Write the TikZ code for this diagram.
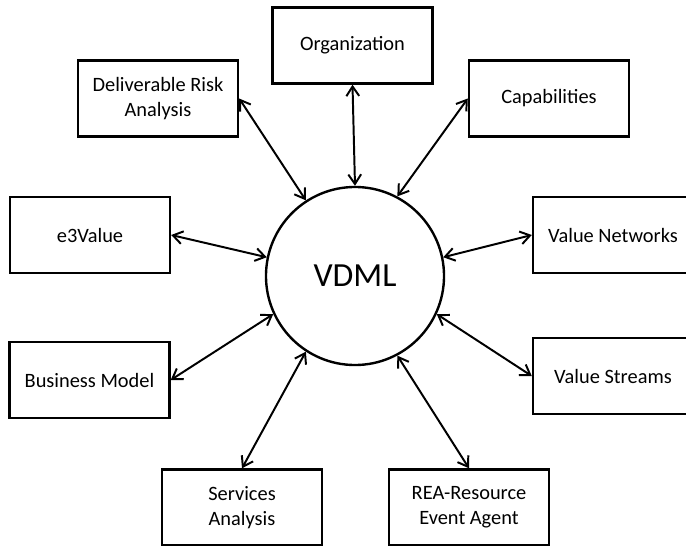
\documentclass[tikz,border=0pt]{standalone}
\usepackage{fontspec}
\setmainfont{Carlito}
\usepackage{tikz}
\usetikzlibrary{arrows.meta, positioning}

\begin{document}
\begin{tikzpicture}[
    x=0.025cm, y=-0.025cm,
    block/.style={rectangle, draw=black, line width=1.7pt, fill=white, minimum width=4cm, minimum height=1.9cm, align=center, font=\fontsize{14.5}{18}\selectfont},
    hub/.style={circle, draw=black, line width=1.7pt, minimum size=4.45cm, inner sep=0pt, font=\fontsize{24}{28}\selectfont},
    link/.style={{Straight Barb[length=2.4mm, width=3.2mm]}-{Straight Barb[length=2.4mm, width=3.2mm]}, line width=1.4pt}
]
\useasboundingbox (0,0) rectangle (686,546);

% Central model
\node[hub] (vdml) at (355, 276) {VDML};

% Surrounding boxes (clockwise from top)
\node[block] (org) at (352.5, 45.5) {Organization};
\node[block] (cap) at (549, 98.5) {Capabilities};
\node[block] (vnet) at (613, 235) {Value Networks};
\node[block] (vstr) at (613, 376) {Value Streams};
\node[block] (rea) at (469, 507.5) {REA-Resource\\Event Agent};
\node[block] (serv) at (242, 507.5) {Services\\Analysis};
\node[block] (bmod) at (89.5, 380) {Business Model};
\node[block] (e3v) at (90, 235) {e3Value};
\node[block] (dra) at (158, 98.5) {Deliverable Risk\\Analysis};

% Two-way links to VDML
\draw[link] (org.south) -- (vdml.90);
\draw[link] (cap.west) -- (vdml.62);
\draw[link] (vnet.west) -- (vdml.12);
\draw[link] (vstr.west) -- (vdml.335);
\draw[link] (rea.north) -- (vdml.298);
\draw[link] (serv.north) -- (vdml.237);
\draw[link] (bmod.east) -- (vdml.205);
\draw[link] (e3v.east) -- (vdml.168);
\draw[link] (dra.east) -- (vdml.123);

\end{tikzpicture}
\end{document}
